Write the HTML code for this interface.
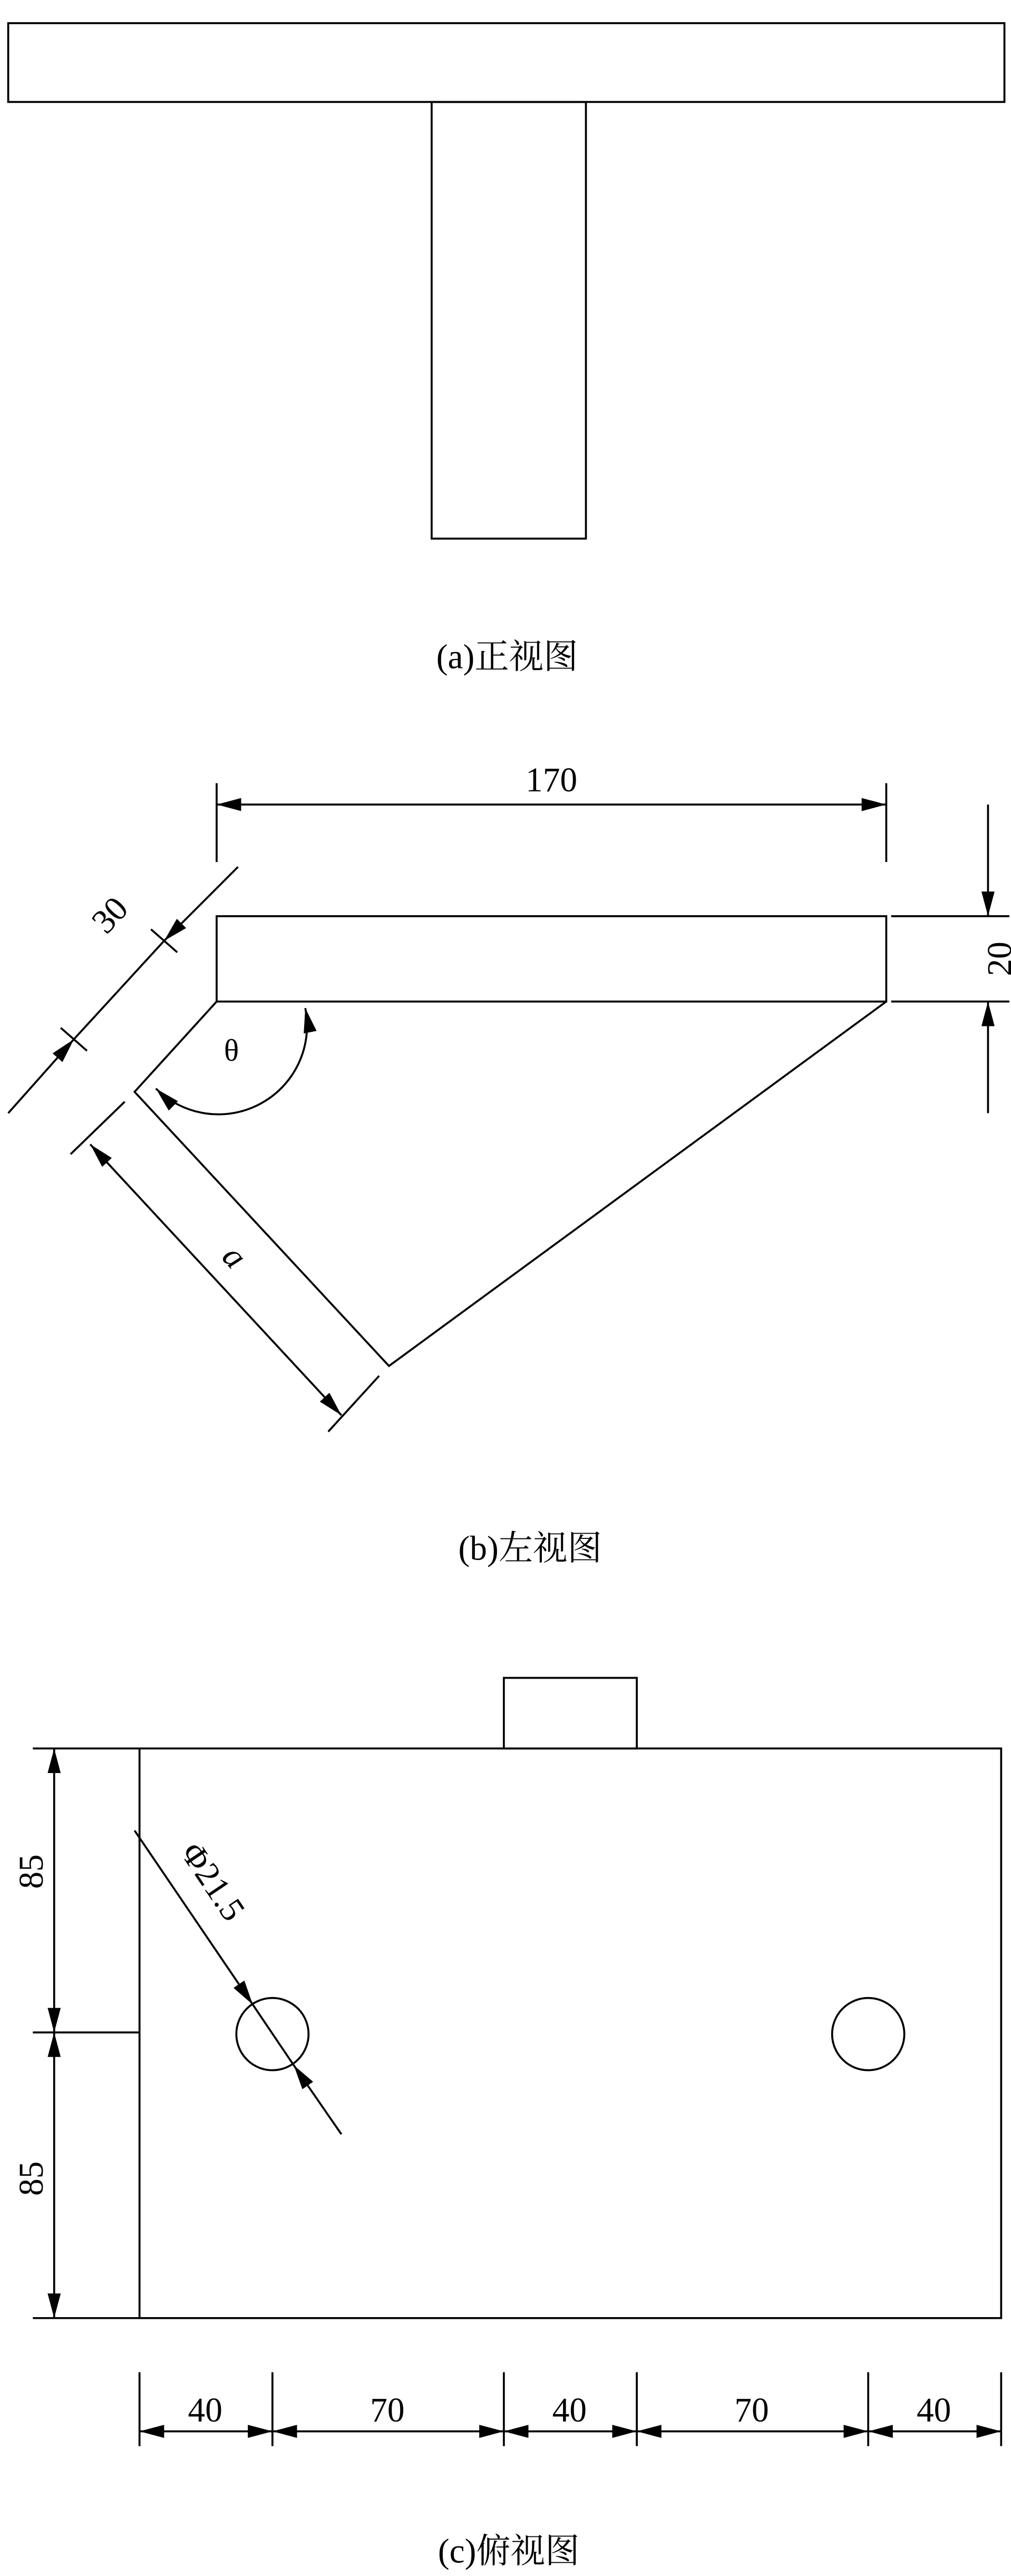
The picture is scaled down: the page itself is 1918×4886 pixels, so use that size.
<!DOCTYPE html>
<html><head><meta charset="utf-8"><style>
html,body{margin:0;padding:0;background:#fff;}
svg{display:block;}
text{font-family:"Liberation Serif","Noto Serif CJK SC",serif;fill:#000;}
</style></head><body>
<svg width="1918" height="4886" viewBox="0 0 616 1569" xmlns="http://www.w3.org/2000/svg">
<defs>
<marker id="ar" markerUnits="userSpaceOnUse" markerWidth="16" markerHeight="10" refX="15" refY="4" orient="auto-start-reverse">
<path d="M0,0 L15,4 L0,8 Z" fill="#000"/>
</marker>
</defs>
<g fill="none" stroke="#000" stroke-width="1.2">
<rect x="5" y="14" width="607" height="48"/>
<rect x="263" y="62" width="94" height="266"/>
<line x1="132" y1="477" x2="132" y2="525"/>
<line x1="540" y1="477" x2="540" y2="525"/>
<line x1="132" y1="490" x2="540" y2="490" marker-start="url(#ar)" marker-end="url(#ar)"/>
<rect x="132" y="558" width="408" height="52"/>
<line x1="543" y1="558" x2="615" y2="558"/>
<line x1="543" y1="610" x2="615" y2="610"/>
<line x1="602" y1="490" x2="602" y2="558" marker-end="url(#ar)"/>
<line x1="602" y1="678" x2="602" y2="610" marker-end="url(#ar)"/>
<polyline points="132,610 82,665 237,832 540,610"/>
<line x1="5" y1="678" x2="45" y2="633" marker-end="url(#ar)"/>
<line x1="145" y1="528" x2="100" y2="573" marker-end="url(#ar)"/>
<line x1="45" y1="633" x2="100" y2="573"/>
<line x1="92" y1="566" x2="108" y2="580"/>
<line x1="37" y1="626" x2="53" y2="640"/>
<line x1="76" y1="671" x2="43" y2="703"/>
<line x1="231" y1="838" x2="200" y2="872"/>
<line x1="55" y1="697" x2="208" y2="862" marker-start="url(#ar)" marker-end="url(#ar)"/>
<path d="M 186 614 A 54 54 0 0 1 95 663" marker-start="url(#ar)" marker-end="url(#ar)"/>
<rect x="307" y="1022" width="81" height="43"/>
<rect x="85" y="1065" width="525" height="347"/>
<circle cx="166" cy="1239" r="22"/>
<circle cx="529" cy="1239" r="22"/>
<line x1="20" y1="1065" x2="85" y2="1065"/>
<line x1="20" y1="1238" x2="85" y2="1238"/>
<line x1="20" y1="1412" x2="85" y2="1412"/>
<line x1="33" y1="1065" x2="33" y2="1238" marker-start="url(#ar)" marker-end="url(#ar)"/>
<line x1="33" y1="1238" x2="33" y2="1412" marker-start="url(#ar)" marker-end="url(#ar)"/>
<line x1="82" y1="1115" x2="154" y2="1221" marker-end="url(#ar)"/>
<line x1="154" y1="1221" x2="179" y2="1258"/>
<line x1="208" y1="1300" x2="179" y2="1258" marker-end="url(#ar)"/>
<line x1="85" y1="1445" x2="85" y2="1490"/>
<line x1="166" y1="1445" x2="166" y2="1490"/>
<line x1="307" y1="1445" x2="307" y2="1490"/>
<line x1="388" y1="1445" x2="388" y2="1490"/>
<line x1="529" y1="1445" x2="529" y2="1490"/>
<line x1="610" y1="1445" x2="610" y2="1490"/>
<line x1="85" y1="1481" x2="166" y2="1481" marker-start="url(#ar)" marker-end="url(#ar)"/>
<line x1="166" y1="1481" x2="307" y2="1481" marker-start="url(#ar)" marker-end="url(#ar)"/>
<line x1="307" y1="1481" x2="388" y2="1481" marker-start="url(#ar)" marker-end="url(#ar)"/>
<line x1="388" y1="1481" x2="529" y2="1481" marker-start="url(#ar)" marker-end="url(#ar)"/>
<line x1="529" y1="1481" x2="610" y2="1481" marker-start="url(#ar)" marker-end="url(#ar)"/>
</g>
<g font-size="21" text-anchor="middle">
<text x="309" y="407">(a)正视图</text>
<text x="336" y="482">170</text>
<text x="0" y="0" transform="translate(616,584) rotate(-90)">20</text>
<text x="0" y="0" transform="translate(72,562) rotate(-47)">30</text>
<text x="0" y="0" font-style="italic" transform="translate(138,770) rotate(47)">a</text>
<text x="141" y="646" font-size="19">θ</text>
<text x="323" y="950">(b)左视图</text>
<text x="0" y="0" transform="translate(26,1140) rotate(-90)">85</text>
<text x="0" y="0" transform="translate(26,1327) rotate(-90)">85</text>
<text x="0" y="0" transform="translate(124,1150) rotate(56)">Φ21.5</text>
<text x="125" y="1475">40</text>
<text x="236" y="1475">70</text>
<text x="347" y="1475">40</text>
<text x="458" y="1475">70</text>
<text x="569" y="1475">40</text>
<text x="310" y="1561">(c)俯视图</text>
</g>
</svg>
</body></html>
